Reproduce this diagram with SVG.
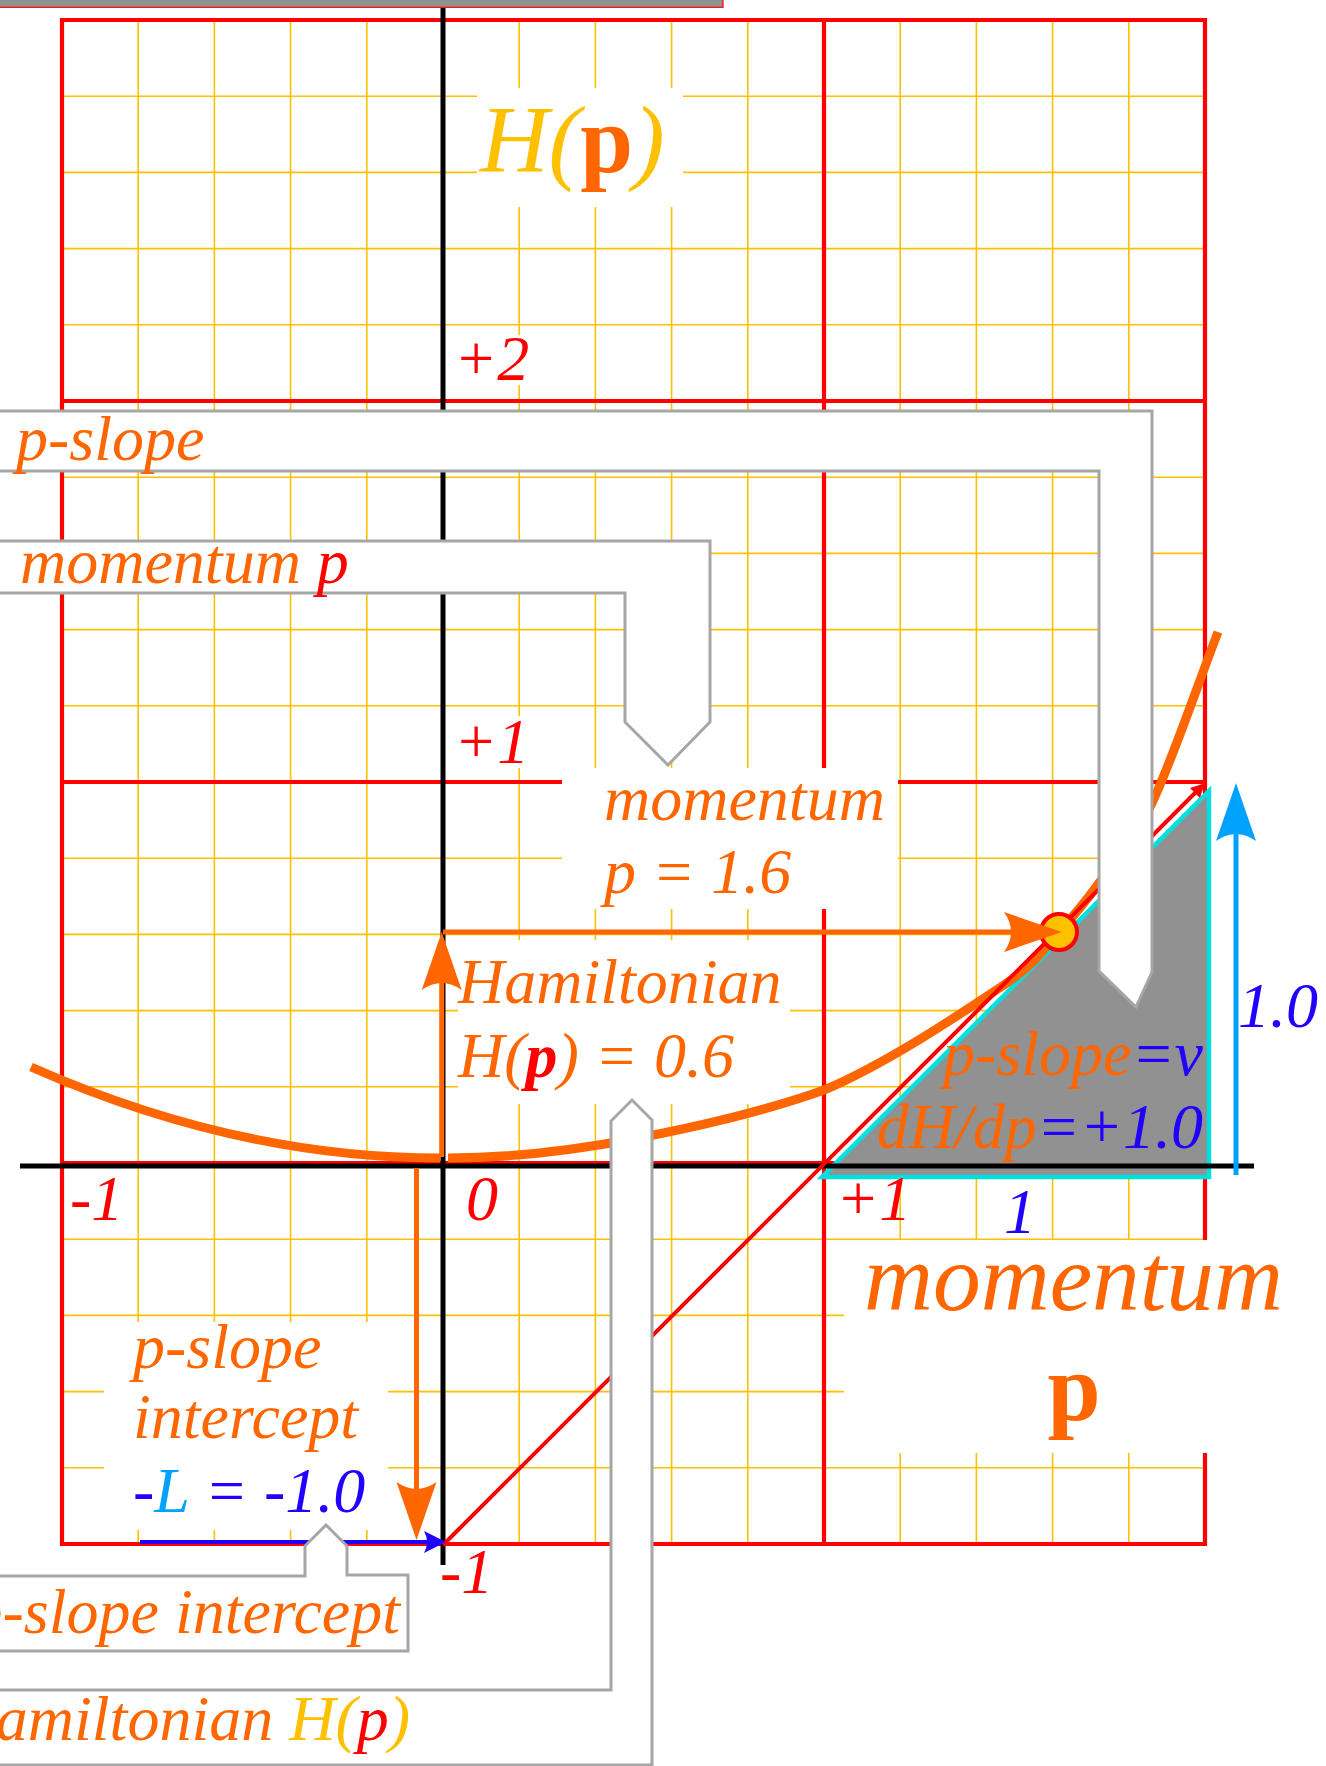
<svg xmlns="http://www.w3.org/2000/svg" width="1326" height="1766" viewBox="0 0 1326 1766">
<style>
.t{font-family:"Liberation Serif","Times New Roman",serif;font-style:italic;font-size:64px}
.o{fill:#FF6600}.r{fill:#FF0000}.y{fill:#FFC000}.b{fill:#2200FF}.lb{fill:#00A2FF}
.bd{font-weight:bold}
.up{font-style:normal}
.minor{stroke:#FFC000;stroke-width:1.6;fill:none}
.major{stroke:#FF0000;stroke-width:4.2;fill:none;stroke-linecap:square}
.axis{stroke:#000;stroke-width:5;fill:none}
.bg{fill:#fff}
.call{fill:#fff;stroke:#A6A6A6;stroke-width:3;stroke-linejoin:miter}
.oa{stroke:#FF6600;stroke-width:5;fill:none}
</style>
<defs>
<marker id="ah-o" viewBox="-60 -22 62 44" markerWidth="62" markerHeight="44" refX="-20" refY="0" orient="auto" markerUnits="userSpaceOnUse">
<path d="M0,0 L-58,-20 Q-44,0 -58,20 Z" fill="#FF6600"/>
</marker>
<marker id="ah-lb" viewBox="-60 -22 62 44" markerWidth="62" markerHeight="44" refX="-20" refY="0" orient="auto" markerUnits="userSpaceOnUse">
<path d="M0,0 L-58,-20 Q-44,0 -58,20 Z" fill="#00A2FF"/>
</marker>
<marker id="ah-b" viewBox="-24 -12 26 24" markerWidth="26" markerHeight="24" refX="-8" refY="0" orient="auto" markerUnits="userSpaceOnUse">
<path d="M0,0 L-22,-11 Q-16,0 -22,11 Z" fill="#2200FF"/>
</marker>
<marker id="ah-r" viewBox="-16 -8 18 16" markerWidth="18" markerHeight="16" refX="-4" refY="0" orient="auto" markerUnits="userSpaceOnUse">
<path d="M0,0 L-14,-7 L-14,7 Z" fill="#FF0000"/>
</marker>
</defs>
<rect x="0" y="0" width="1326" height="1766" fill="#fff"/>
<g id="top-bar"><rect x="-5" y="-60" width="728" height="67.3" fill="#919191" stroke="#FF0000" stroke-width="1.2"/></g>
<g id="grid">
<path class="minor" d="M138.2,20V1544M214.4,20V1544M290.6,20V1544M366.8,20V1544M519.2,20V1544M595.4,20V1544M671.6,20V1544M747.8,20V1544M900.2,20V1544M976.4,20V1544M1052.6,20V1544M1128.8,20V1544"/>
<path class="minor" d="M62,96.2H1205M62,172.4H1205M62,248.6H1205M62,324.8H1205M62,477.2H1205M62,553.4H1205M62,629.6H1205M62,705.8H1205M62,858.2H1205M62,934.4H1205M62,1010.6H1205M62,1086.8H1205M62,1239.2H1205M62,1315.4H1205M62,1391.6H1205M62,1467.8H1205"/>
<path class="major" d="M62,20V1544M824,20V1544M1205,20V1544M62,20H1205M62,401H1205M62,782H1205M62,1163H1205M62,1544H1205"/>
</g>
<g id="slope-triangle"><path d="M822,1177 L1209,1177 L1209,791 Z" fill="#919191" stroke="#00E0E0" stroke-width="4.5" stroke-linejoin="miter"/></g>
<g id="axes">
<path class="axis" d="M443,8V1565M20,1166H1254"/>
</g>
<g id="label-backgrounds">
<rect class="bg" x="477" y="88" width="206" height="119"/>
<rect class="bg" x="450" y="335" width="80" height="50"/>
<rect class="bg" x="450" y="716" width="80" height="52"/>
<rect class="bg" x="562" y="768" width="336" height="141"/>
<rect class="bg" x="458" y="940" width="332" height="164"/>
<rect class="bg" x="104" y="1322" width="284" height="208"/>
<rect class="bg" x="844" y="1240" width="456" height="213"/>
</g>
<g id="curve-H">
<path d="M31,1067 Q237,1158 440,1158" stroke="#FF6600" stroke-width="9" fill="none"/>
<path d="M448,1158 C510,1158 570,1151 633,1139 C696,1127 763,1112 824,1090 C885,1064.5 962,1013 1001,987 C1040,960.7 1043,949 1059,932 C1075,914.7 1083.5,904.5 1099,883 C1114.5,861.5 1132,845 1152,803 C1172,761 1196,689 1218,632" stroke="#FF6600" stroke-width="9" fill="none"/>
</g>
<g id="connectors">
<line x1="443" y1="1545" x2="1202" y2="786" stroke="#FF0000" stroke-width="4" marker-end="url(#ah-r)"/>
<line class="oa" x1="441.7" y1="1157" x2="441.7" y2="952" marker-end="url(#ah-o)"/>
<line class="oa" x1="416.5" y1="1168" x2="416.5" y2="1520" marker-end="url(#ah-o)"/>
<line x1="1236" y1="1175" x2="1236" y2="803" stroke="#00A2FF" stroke-width="5" marker-end="url(#ah-lb)"/>
<line x1="140" y1="1542" x2="438" y2="1542" stroke="#2200FF" stroke-width="4" marker-end="url(#ah-b)"/>
</g>
<g id="point"><circle cx="1059" cy="932" r="18" fill="#FFC000" stroke="#FF0000" stroke-width="4"/></g>
<g id="connector-momentum">
<line class="oa" x1="443" y1="932" x2="1042" y2="932" marker-end="url(#ah-o)"/>
</g>
<g id="callout-p-slope">
<path class="call" d="M-10,411 L1152,411 L1152,972 L1136,1007 L1099,971 L1099,471 L-10,471 Z"/>
<text class="t o" x="16" y="460">p-slope</text>
</g>
<g id="callout-momentum">
<path class="call" d="M-10,541 L710,541 L710,722 L668,765 L625,722 L625,593 L-10,593 Z"/>
<text class="t o" x="20" y="583">momentum <tspan class="r">p</tspan></text>
</g>
<g id="callout-intercept">
<path class="call" d="M-10,1576 L305,1576 L305,1546 L326,1525 L347,1546 L347,1575 L408,1575 L408,1651 L-10,1651 Z"/>
<text class="t o" x="400" y="1633" text-anchor="end">p-slope intercept</text>
</g>
<g id="callout-hamiltonian">
<path class="call" d="M-10,1690 L611,1690 L611,1121 L632,1100 L652,1120 L652,1765 L-10,1765 Z"/>
<text class="t o" x="410" y="1740" text-anchor="end">Hamiltonian <tspan class="y">H(</tspan><tspan class="r">p</tspan><tspan class="y">)</tspan></text>
</g>
<g id="label-Hp">
<text class="t y" x="480" y="172" style="font-size:95px">H(<tspan class="o bd up">p</tspan>)</text>
</g>
<g id="ticks">
<text class="t r" x="454" y="380">+2</text>
<text class="t r" x="454" y="763">+1</text>
<text class="t r" x="70" y="1220">-1</text>
<text class="t r" x="466" y="1220">0</text>
<text class="t r" x="836" y="1220">+1</text>
<text class="t r" x="440" y="1593">-1</text>
<text class="t b" x="1004" y="1233">1</text>
<text class="t b" x="1238" y="1027">1.0</text>
</g>
<g id="label-momentum-value">
<text class="t o" x="604" y="820">momentum</text>
<text class="t o" x="604" y="893">p = 1.6</text>
</g>
<g id="label-hamiltonian-value">
<text class="t o" x="458" y="1003">Hamiltonian</text>
<text class="t o" x="458" y="1077">H(<tspan class="r bd">p</tspan>) = 0.6</text>
</g>
<g id="label-slope">
<text class="t o" x="1203" y="1075" text-anchor="end">p-slope<tspan class="b">=v</tspan></text>
<text class="t o" x="1203" y="1148" text-anchor="end">dH/dp<tspan class="b">=+1.0</tspan></text>
</g>
<g id="label-intercept">
<text class="t o" x="133" y="1368">p-slope</text>
<text class="t o" x="133" y="1438">intercept</text>
<text class="t b" x="133" y="1512">-<tspan class="lb">L</tspan> = -1.0</text>
</g>
<g id="label-axis-momentum">
<text class="t o" x="864" y="1310" style="font-size:95.5px">momentum</text>
<text class="t o bd up" x="1074" y="1420" text-anchor="middle" style="font-size:95.5px">p</text>
</g>
</svg>
